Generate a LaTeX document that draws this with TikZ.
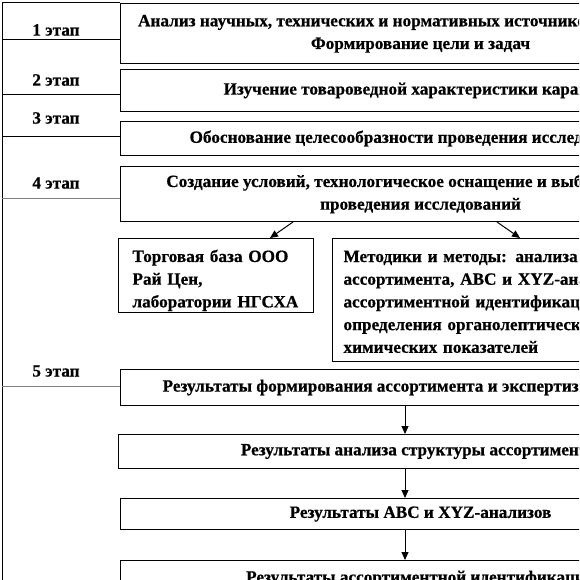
\documentclass[tikz,border=0pt]{standalone}
\usepackage{fontspec}
\setmainfont{Liberation Serif}[BoldFeatures={FakeBold=0.6}]
\usetikzlibrary{arrows.meta,calc,positioning}

\begin{document}
\begin{tikzpicture}[x=1pt,y=-1pt,>={Triangle[length=8pt,width=7pt]},
  font=\fontsize{17.2}{22.7}\selectfont\bfseries,
  box/.style={draw,line width=1pt,anchor=north west,minimum width=600pt,align=center,inner sep=0pt},
  sidebox/.style={draw,line width=1pt,anchor=north west,align=left,inner ysep=0pt},
  stagelbl/.style={inner sep=0pt},
  link/.style={->,line width=1pt}]
  \useasboundingbox (0,0) rectangle (579,580);
  \clip (0,0) rectangle (579,580);

  % stages 1--4
  \node[box,minimum height=60pt] (box1) at (120,3)
      {Анализ научных, технических и нормативных источников информации.\\
       Формирование цели и задач};
  \node[box,minimum height=42pt] (box2) at (120,69)
      {Изучение товароведной характеристики карамели};
  \node[box,minimum height=34pt] (box3) at (120,121)
      {Обоснование целесообразности проведения исследований \ \ };
  \node[box,minimum height=55pt] (box4) at (120,166)
      {Создание условий, технологическое  оснащение и выбор объектов\\
       проведения исследований};

  % base and methods
  \node[sidebox,minimum height=74pt,inner xsep=14pt,text width=167pt] (base) at (118,238)
      {\rule{0pt}{22pt}Торговая база ООО\\ Рай Цен,\\ лаборатории НГСХА};
  \node[sidebox,minimum height=123pt,inner xsep=11pt,text width=420pt] (meth) at (332,238)
      {\rule{0pt}{15pt}Методики и методы:  анализа структуры\\
       ассортимента, АВС  и XYZ-анализов,\\
       ассортиментной идентификации,\\
       определения органолептических и физико-\\
       химических показателей};

  % stage 5
  \node[box,minimum height=36pt] (res1) at (120,369)
      {Результаты формирования ассортимента и экспертизы качества \ \ };
  \node[box,minimum height=34pt] (res2) at (118,434)
      {Результаты анализа структуры ассортимента};
  \node[box,minimum height=31pt] (res3) at (120,498)
      {Результаты АВС  и XYZ-анализов};
  \node[box,minimum height=36pt] (res4) at (120,560)
      {Результаты ассортиментной идентификации};

  % left frame and stage labels
  \coordinate (frametop) at (2,3);
  \coordinate (framebot) at (2,590);
  \draw[line width=1pt] (box1.north west) -- (frametop) -- (framebot);
  \foreach \n/\ly/\by/\col/\b in {1/30/40/black/box1, 2/80/95/black/box2,
      3/118/137/black/box3, 4/183/198/gray/box4, 5/371/386/gray/res1}{
    \node[stagelbl] (stage\n) at (56,\ly) {\n\ этап};
    \coordinate (tick\n) at (2,\by);
    \draw[line width=1pt,\col] (tick\n) -- (tick\n -| \b.west);
  }

  % arrows
  \draw[link] ([xshift=173pt]box4.south west) -- ([xshift=152pt]base.north west);
  \draw[link] ([xshift=377pt]box4.south west) -- ([xshift=188pt]meth.north west);
  \coordinate (spine) at (405,0);
  \draw[link] (res1.south -| spine) -- (res2.north -| spine);
  \draw[link] (res2.south -| spine) -- (res3.north -| spine);
  \draw[link] (res3.south -| spine) -- (res4.north -| spine);
\end{tikzpicture}
\end{document}
